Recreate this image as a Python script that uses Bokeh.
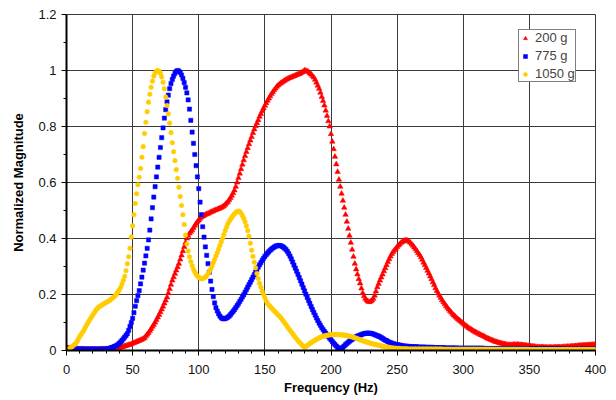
import numpy as np
from bokeh.plotting import figure
from bokeh.models import Range1d, FixedTicker
from bokeh.embed import file_html
from bokeh.resources import INLINE

# Frequency sampling of the measured spectra (1 Hz steps, 0..400 Hz)
freq_hz = np.arange(0, 401, 1)

# Normalized magnitude, in thousandths, one value per Hz
mag_200g_milli = [
    10, 9, 8, 8, 7, 7, 6, 6, 6, 5,
    5, 5, 5, 5, 4, 4, 4, 4, 4, 4,
    4, 4, 4, 4, 4, 4, 5, 5, 5, 5,
    5, 5, 6, 6, 6, 7, 7, 8, 8, 9,
    10, 11, 12, 14, 15, 17, 18, 20, 21, 23,
    25, 27, 29, 31, 33, 35, 37, 39, 42, 45,
    51, 57, 63, 70, 77, 85, 92, 100, 109, 118,
    127, 137, 147, 157, 168, 179, 190, 205, 220, 235,
    250, 262, 274, 286, 298, 310, 325, 340, 355, 370,
    385, 400, 410, 418, 424, 430, 438, 446, 453, 460,
    465, 471, 476, 479, 482, 485, 487, 489, 491, 494,
    496, 498, 500, 502, 504, 506, 508, 510, 513, 516,
    521, 526, 531, 538, 545, 553, 562, 572, 585, 600,
    616, 632, 648, 664, 680, 695, 709, 723, 737, 750,
    763, 777, 790, 801, 812, 823, 835, 845, 855, 865,
    874, 883, 892, 900, 908, 916, 923, 930, 936, 942,
    947, 951, 955, 958, 961, 964, 967, 970, 972, 974,
    976, 978, 980, 982, 984, 986, 988, 990, 993, 996,
    1000, 999, 997, 995, 990, 986, 981, 975, 967, 957,
    946, 935, 921, 906, 891, 875, 857, 838, 819, 800,
    773, 746, 719, 692, 665, 638, 610, 585, 560, 535,
    510, 485, 460, 435, 410, 385, 360, 335, 310, 290,
    272, 255, 240, 222, 205, 194, 185, 179, 175, 173,
    175, 179, 185, 196, 211, 226, 238, 250, 261, 272,
    283, 294, 305, 316, 326, 336, 345, 352, 358, 364,
    370, 375, 380, 385, 388, 391, 393, 393, 392, 389,
    385, 380, 374, 368, 362, 355, 348, 341, 333, 324,
    314, 305, 295, 285, 275, 265, 255, 244, 234, 223,
    213, 204, 196, 188, 180, 173, 166, 159, 153, 147,
    141, 136, 130, 125, 121, 116, 112, 108, 104, 100,
    96, 92, 88, 85, 81, 78, 75, 72, 69, 66,
    64, 61, 59, 56, 54, 52, 49, 47, 44, 42,
    40, 38, 36, 34, 32, 31, 29, 28, 26, 25,
    24, 23, 22, 21, 20, 20, 20, 20, 21, 21,
    21, 21, 21, 20, 20, 19, 19, 18, 17, 17,
    16, 15, 15, 14, 14, 13, 12, 12, 12, 12,
    12, 12, 11, 11, 11, 11, 11, 11, 11, 11,
    12, 12, 12, 12, 12, 12, 13, 13, 13, 14,
    14, 14, 15, 15, 15, 16, 16, 17, 17, 18,
    18, 18, 19, 19, 19, 20, 20, 20, 21, 21,
    20,
]

mag_775g_milli = [
    3, 4, 5, 5, 5, 5, 5, 5, 5, 5,
    5, 5, 5, 5, 5, 5, 5, 5, 5, 5,
    5, 5, 5, 5, 5, 5, 5, 5, 5, 5,
    5, 6, 7, 8, 10, 12, 14, 16, 18, 22,
    26, 31, 36, 42, 48, 54, 60, 72, 86, 100,
    115, 135, 158, 178, 196, 214, 238, 262, 287, 312,
    338, 365, 395, 430, 470, 510, 548, 585, 620, 655,
    690, 725, 760, 795, 830, 860, 888, 912, 935, 953,
    968, 980, 990, 997, 1000, 998, 993, 984, 972, 957,
    940, 920, 895, 862, 822, 780, 740, 700, 660, 620,
    578, 530, 485, 442, 405, 370, 340, 310, 280, 248,
    218, 192, 170, 153, 141, 131, 123, 117, 114, 113,
    114, 116, 119, 123, 128, 134, 140, 146, 153, 160,
    167, 175, 183, 191, 199, 208, 217, 226, 235, 244,
    253, 262, 271, 280, 289, 298, 306, 314, 322, 329,
    336, 342, 348, 353, 358, 362, 366, 369, 372, 374,
    375, 375, 374, 372, 369, 365, 360, 354, 346, 337,
    327, 316, 305, 294, 283, 272, 260, 249, 237, 225,
    213, 201, 190, 179, 168, 157, 146, 136, 126, 116,
    107, 98, 90, 82, 75, 68, 62, 56, 50, 44,
    38, 32, 26, 21, 16, 11, 7, 6, 8, 12,
    16, 21, 25, 29, 33, 37, 40, 43, 46, 49,
    51, 53, 55, 57, 59, 60, 61, 62, 62, 62,
    61, 60, 59, 57, 55, 53, 51, 49, 46, 43,
    40, 37, 35, 32, 30, 28, 26, 24, 23, 22,
    21, 20, 19, 18, 17, 16, 16, 15, 15, 14,
    14, 14, 13, 13, 13, 13, 12, 12, 12, 12,
    12, 12, 11, 11, 11, 11, 11, 11, 10, 10,
    10, 10, 10, 10, 10, 10, 9, 9, 9, 9,
    9, 9, 9, 9, 9, 9, 8, 8, 8, 8,
    8, 8, 8, 8, 8, 8, 8, 8, 8, 8,
    8, 8, 8, 8, 8, 8, 7, 7, 7, 7,
    7, 7, 7, 7, 7, 7, 7, 7, 7, 7,
    7, 7, 7, 7, 7, 7, 7, 7, 7, 7,
    7, 7, 7, 7, 7, 6, 6, 6, 6, 6,
    6, 6, 6, 6, 6, 6, 6, 6, 6, 6,
    6, 6, 6, 6, 6, 6, 6, 6, 6, 6,
    6, 6, 6, 6, 6, 5, 5, 5, 5, 5,
    5, 5, 5, 5, 5, 5, 5, 5, 5, 5,
    5, 5, 5, 5, 5, 5, 5, 5, 5, 5,
    5,
]

mag_1050g_milli = [
    0, 3, 6, 9, 13, 17, 21, 25, 33, 42,
    50, 57, 64, 71, 80, 89, 97, 105, 113, 120,
    128, 135, 142, 149, 153, 157, 160, 163, 166, 169,
    172, 174, 177, 180, 184, 188, 192, 196, 203, 210,
    217, 226, 238, 251, 265, 285, 310, 335, 365, 405,
    445, 485, 525, 560, 592, 619, 650, 690, 728, 775,
    815, 853, 887, 915, 940, 962, 980, 992, 998, 1000,
    997, 990, 977, 958, 935, 905, 875, 845, 812, 778,
    742, 710, 678, 646, 615, 583, 550, 518, 485, 450,
    412, 380, 355, 335, 318, 303, 290, 280, 272, 266,
    261, 258, 256, 257, 259, 262, 267, 274, 282, 290,
    301, 313, 325, 337, 349, 362, 375, 388, 400, 414,
    428, 440, 452, 461, 469, 476, 482, 488, 493, 496,
    498, 496, 490, 482, 472, 460, 445, 428, 408, 383,
    358, 336, 315, 295, 275, 257, 240, 226, 212, 200,
    188, 177, 168, 162, 157, 152, 147, 142, 137, 132,
    127, 122, 117, 111, 105, 98, 92, 85, 78, 72,
    66, 60, 53, 47, 41, 35, 30, 25, 20, 15,
    12, 14, 18, 21, 25, 28, 31, 34, 37, 40,
    42, 45, 47, 49, 50, 52, 53, 54, 55, 56,
    56, 57, 57, 57, 57, 57, 57, 56, 56, 55,
    55, 54, 53, 52, 51, 50, 48, 47, 45, 44,
    42, 40, 38, 37, 35, 33, 32, 30, 29, 27,
    26, 24, 23, 22, 21, 20, 19, 18, 16, 15,
    14, 13, 12, 11, 11, 10, 9, 9, 8, 8,
    7, 7, 7, 6, 6, 6, 6, 6, 5, 5,
    5, 5, 5, 5, 5, 5, 5, 5, 5, 5,
    5, 5, 5, 5, 5, 5, 5, 5, 5, 5,
    5, 5, 5, 5, 5, 4, 4, 4, 4, 4,
    4, 4, 4, 4, 4, 4, 4, 4, 4, 4,
    4, 4, 4, 4, 4, 4, 4, 4, 4, 4,
    4, 4, 4, 4, 4, 4, 4, 4, 4, 4,
    4, 4, 4, 4, 4, 4, 4, 4, 4, 4,
    4, 4, 4, 4, 4, 4, 4, 4, 4, 4,
    4, 4, 4, 4, 4, 4, 4, 4, 4, 4,
    3, 3, 3, 3, 3, 3, 3, 3, 3, 3,
    3, 3, 3, 3, 3, 3, 3, 3, 3, 3,
    3, 3, 3, 3, 3, 3, 3, 3, 3, 3,
    3, 3, 3, 3, 3, 3, 3, 3, 3, 3,
    3, 3, 3, 3, 3, 3, 3, 3, 3, 3,
    3,
]

series_labels = ["200 g", "775 g", "1050 g"]
series_colors = ["#FF0000", "#0000FF", "#FFCC00"]

x_ticks = [0, 50, 100, 150, 200, 250, 300, 350, 400]
x_minor_ticks = list(range(0, 401, 10))
y_ticks = [0, 0.2, 0.4, 0.6, 0.8, 1, 1.2]
y_tick_labels = ["0", "0.2", "0.4", "0.6", "0.8", "1", "1.2"]
y_minor_ticks = [0.1, 0.3, 0.5, 0.7, 0.9, 1.1]

FONT = "Liberation Sans"

p = figure(width=616, height=400, output_backend="svg", toolbar_location=None,
           x_range=Range1d(0, 400), y_range=Range1d(0, 1.2),
           min_border_left=66, min_border_right=21, min_border_top=14,
           min_border_bottom=50)
p.background_fill_color = "white"
p.border_fill_color = "white"
p.outline_line_color = "#3a3a3a"
p.outline_line_width = 1

mags = [np.array(mag_200g_milli) / 1000.0,
        np.array(mag_775g_milli) / 1000.0,
        np.array(mag_1050g_milli) / 1000.0]
markers = ["triangle", "square", "circle"]
sizes = [5.5, 4.2, 4.6]

for m, lab, col, mk, sz in zip(mags, series_labels, series_colors, markers, sizes):
    p.scatter(freq_hz, m, marker=mk, size=sz, fill_color=col, line_color=col,
              line_width=0.5, legend_label=lab)

# axes
p.xaxis.ticker = FixedTicker(ticks=x_ticks, minor_ticks=x_minor_ticks)
p.yaxis.ticker = FixedTicker(ticks=y_ticks, minor_ticks=y_minor_ticks)
p.yaxis.major_label_overrides = dict(zip(y_ticks, y_tick_labels))

p.xaxis.axis_label = "Frequency (Hz)"
p.yaxis.axis_label = "Normalized Magnitude"
for ax in (p.xaxis, p.yaxis):
    ax.axis_line_color = "black"
    ax.axis_line_width = 2
    ax.major_tick_line_color = "black"
    ax.minor_tick_line_color = "black"
    ax.major_tick_in = 0
    ax.major_tick_out = 5
    ax.minor_tick_in = 0
    ax.minor_tick_out = 3
    ax.major_label_text_font = FONT
    ax.major_label_text_font_size = "13px"
    ax.major_label_text_color = "#111111"
    ax.axis_label_text_font = FONT
    ax.axis_label_text_font_size = "13px"
    ax.axis_label_text_font_style = "bold"
    ax.axis_label_text_color = "black"
p.xaxis.major_label_standoff = 9
p.xaxis.axis_label_standoff = 3
p.yaxis.major_label_standoff = 5
p.yaxis.axis_label_standoff = 9

p.xgrid.grid_line_color = "#3a3a3a"
p.ygrid.grid_line_color = "#3a3a3a"
p.xgrid.grid_line_width = 1
p.ygrid.grid_line_width = 1

# legend
lg = p.legend[0]
lg.location = (452, 268)
lg.margin = 0
lg.padding = 0
lg.spacing = 3
lg.glyph_width = 12
lg.glyph_height = 10
lg.label_height = 14
lg.label_standoff = 4
lg.label_text_font = FONT
lg.label_text_font_size = "13px"
lg.border_line_color = "black"
lg.border_line_width = 1
lg.background_fill_color = "white"
lg.background_fill_alpha = 1.0

open("out.html", "w").write(file_html(p, INLINE))
